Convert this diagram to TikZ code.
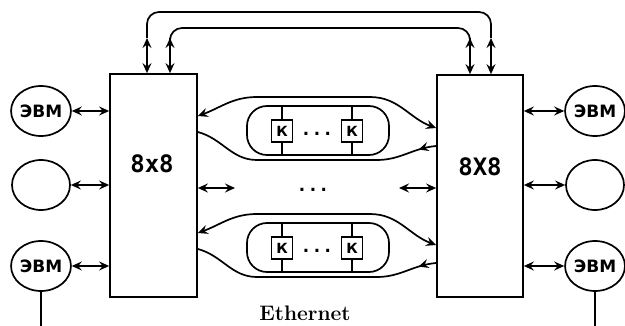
\documentclass[tikz,border=0pt]{standalone}
\usepackage{fontspec}
\newfontfamily\dvs{DejaVu Sans}
\newfontfamily\dvm{DejaVu Sans Mono}
\usetikzlibrary{arrows.meta,shapes.geometric,decorations.markings}
\begin{document}
\begin{tikzpicture}[x=1pt,y=-1pt,line width=1.7pt,
  >={Stealth[length=10pt,width=9pt,inset=3.5pt]},
  unit/.style={draw,inner sep=0pt,minimum width=87pt,minimum height=223pt},
  pc/.style={draw,ellipse,inner sep=0pt,minimum width=58pt,minimum height=50pt,
    font=\dvs\bfseries\fontsize{17}{17}\selectfont},
  kbox/.style={draw,inner sep=0pt,minimum width=21pt,minimum height=22pt,
    font=\dvs\bfseries\fontsize{14}{14}\selectfont},
  sw/.style={draw,rounded corners=20pt,inner sep=0pt,minimum width=142pt,minimum height=49pt},
  lbl/.style={inner sep=0pt,font=\dvm\bfseries\fontsize{24}{24}\selectfont},
  dotsty/.style={inner sep=0pt,font=\dvm\bfseries\fontsize{18}{18}\selectfont},
  bus/.style={rounded corners=12pt}]
\useasboundingbox (0,0) rectangle (625,326);
% switches 8x8
\node[unit] (L) at (153.5,185.5) {};
\node[unit,minimum width=86pt,minimum height=222pt] (R) at (480,186) {};
\node[lbl] (Ll) at (152,164) {8x8};
\node[lbl] (Rl) at (480,167) {8X8};
% computers
\node[pc] (e1) at (41,111) {ЭВМ};
\node[pc] (e2) at (41,185) {};
\node[pc] (e3) at (41,266) {ЭВМ};
\node[pc] (f1) at (595,111) {ЭВМ};
\node[pc] (f2) at (595,185) {};
\node[pc] (f3) at (595,266) {ЭВМ};
\draw[<->] (e1.east) -- (e1.east -| L.west);
\draw[<->] (e2.east) -- (e2.east -| L.west);
\draw[<->] (e3.east) -- (e3.east -| L.west);
\draw[<->] (f1.west -| R.east) -- (f1.west);
\draw[<->] (f2.west -| R.east) -- (f2.west);
\draw[<->] (f3.west -| R.east) -- (f3.west);
% ethernet drops
\coordinate (b1) at (41,326);
\draw (e3.south) -- (b1);
\draw (f3.south) -- (f3.south |- b1);
\node[inner sep=0pt,font=\bfseries\fontsize{21}{21}\selectfont] (eth) at (305,313.5) {Ethernet};
% middle
\node[dotsty] (md) at (313,190) {...};
\coordinate (ml) at (235,188);
\coordinate (mr) at (399,188);
\draw[<->] (L.east |- ml) -- (ml);
\draw[<->] (mr) -- (mr -| R.west);
% top bus
\coordinate (t1) at (147,38);
\coordinate (t2) at (170,38);
\coordinate (t3) at (470,38);
\coordinate (t4) at (491,38);
\coordinate (h1) at (0,12);
\coordinate (h2) at (0,28);
\draw[bus] (t1) -- (t1 |- h1) -- (t4 |- h1) -- (t4);
\draw[bus] (t2) -- (t2 |- h2) -- (t3 |- h2) -- (t3);
\draw[<->] (t1) -- (t1 |- L.north);
\draw[<->] (t2) -- (t2 |- L.north);
\draw[<->] (t3) -- (t3 |- R.north);
\draw[<->] (t4) -- (t4 |- R.north);
% switch chains
\foreach \n/\d in {u/0,d/117}{
  \node[sw] (S\n) at (318,130.5+\d) {};
  \node[kbox] (Ka\n) at (282,131+\d) {К};
  \node[kbox] (Kb\n) at (352,131+\d) {К};
  \node[dotsty] (Kd\n) at (317,134+\d) {...};
  \draw (Ka\n.north) -- (Ka\n.north |- S\n.north);
  \draw (Ka\n.south) -- (Ka\n.south |- S\n.south);
  \draw (Kb\n.north) -- (Kb\n.north |- S\n.north);
  \draw (Kb\n.south) -- (Kb\n.south |- S\n.south);
  \coordinate (ya\n) at (0,116+\d);
  \coordinate (yb\n) at (0,128+\d);
  \coordinate (yc\n) at (0,146+\d);
  \coordinate (yd\n) at (0,132+\d);
  \coordinate (ta\n) at (257,97+\d);
  \coordinate (tb\n) at (370,97+\d);
  \coordinate (ua\n) at (377,160+\d);
  \coordinate (ub\n) at (257,160+\d);
  \draw[<->] (L.east |- ya\n) to[out=20,in=180] (ta\n) -- (tb\n) to[out=0,in=160] (R.west |- yb\n);
  \draw[postaction={decorate},decoration={markings,mark=at position 18pt with {\arrow{>}}}]
    (R.west |- yc\n) to[out=185,in=0] (ua\n) -- (ub\n) to[out=180,in=-15] (L.east |- yd\n);
}
\end{tikzpicture}
\end{document}
